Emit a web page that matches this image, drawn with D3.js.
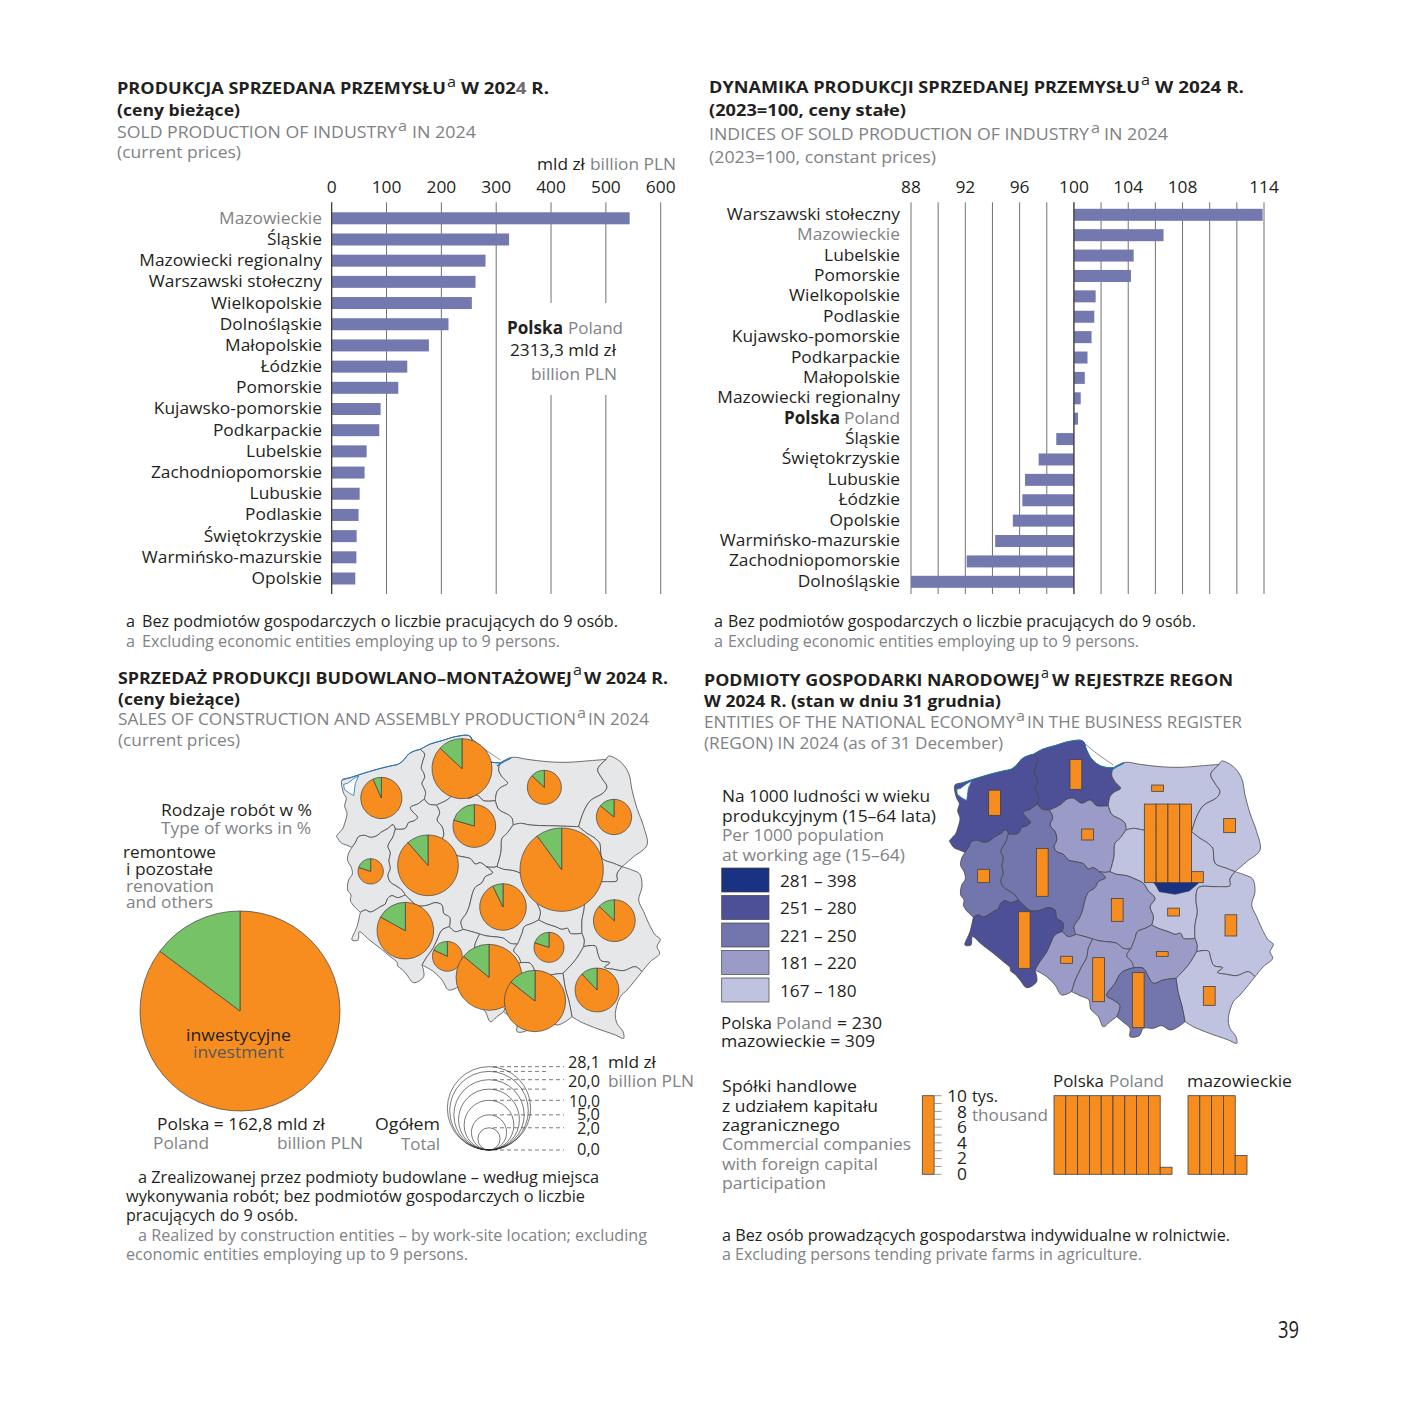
<!DOCTYPE html>
<html><head><meta charset="utf-8">
<script src="https://d3js.org/d3.v7.min.js"></script>
<style>html,body{margin:0;padding:0;background:#fff}svg{display:block}text{font-family:"Open Sans",sans-serif}</style>
</head><body><svg id="c" width="1418" height="1418" viewBox="0 0 1418 1418"></svg>
<script>
// ---------- chart data ----------
const soldCategories=["Mazowieckie","Śląskie","Mazowiecki regionalny","Warszawski stołeczny","Wielkopolskie","Dolnośląskie","Małopolskie","Łódzkie","Pomorskie","Kujawsko-pomorskie","Podkarpackie","Lubelskie","Zachodniopomorskie","Lubuskie","Podlaskie","Świętokrzyskie","Warmińsko-mazurskie","Opolskie"];
const soldValues=[543.4,323.5,280.5,262.3,255.6,213,177.3,137.8,121.4,89.2,86.8,63.7,60,51,49,45.5,45,43];
const soldTicks=[0,100,200,300,400,500,600];
const indexCategories=["Warszawski stołeczny","Mazowieckie","Lubelskie","Pomorskie","Wielkopolskie","Podlaskie","Kujawsko-pomorskie","Podkarpackie","Małopolskie","Mazowiecki regionalny","Polska","Śląskie","Świętokrzyskie","Lubuskie","Łódzkie","Opolskie","Warmińsko-mazurskie","Zachodniopomorskie","Dolnośląskie"];
const indexValues=[113.9,106.6,104.4,104.2,101.6,101.5,101.3,101,100.8,100.5,100.3,98.7,97.4,96.4,96.2,95.5,94.2,92.1,88];
const indexGrid=[88,90,92,94,96,98,100,102,104,106,108,110,112,114];
const indexTickLabels=[88,92,96,100,104,108,114];
const regionIds=["zach","pom","warm","podl","kuj","lub","wlk","maz","lodz","dol","opole","sl","swk","lubl","podk","mal"];
const constructionTotal=[6.9,14.6,4.7,5.05,7.4,2.6,14.9,28.1,8.8,13,3.6,17.6,3.65,7.1,7.8,15.2];
const constructionRenovationShare=[.065,.13,.13,.14,.205,.2,.115,.1,.072,.17,.18,.14,.2,.13,.12,.144];
const polandRenovationShare=.148;
const sizeLegendValues=[28.1,25,20,15,10,5,2];
const entitiesPer1000=[265,262,172,170,195,230,240,178,205,268,190,215,185,170,167,235];
const warsawEntities=398;
const densityBreaks=[181,221,251,281];
const densityColors=["#c0c3df","#9a9cc7","#7276ac","#4d5097","#1a3282"];
const densityLabels=["281 – 398","251 – 280","221 – 250","181 – 220","167 – 180"];
const companiesThousand=[3.2,3.8,.8,1.8,1.4,1.7,6.1,41.4,2.9,7.2,.9,5.6,.6,2.7,2.4,7];
const southMazCompanies=1.0;
const polandCompanies=90.9, mazowieckieCompanies=42.4;
const companyLegendLabels=[10,8,6,4,2,0];

// ---------- map geometry (border arcs, map units) ----------
const arcs={
coastZach:[[28,318],[36,308],[46,298],[53,280],[60,250],[53,228],[58,205],[50,190],[45,150],[70,143],[100,133],[150,118],[190,108],[215,102],[232,88],[245,72],[262,63],[280,58]],
zachPom:[[280,58],[293,72],[288,92],[283,115],[290,128],[293,142],[285,160],[290,172],[296,188],[292,207]],
zachWlk:[[292,207],[272,222],[250,232],[258,246],[272,262],[262,272],[245,278],[235,295],[215,298],[205,297]],
zachLub:[[205,297],[198,284],[182,296],[165,305],[148,318],[130,322],[112,316],[95,320],[85,338],[75,352]],
zachWest:[[75,352],[58,345],[42,338],[28,318]],
lubWest:[[75,352],[64,372],[62,392],[72,410],[76,432],[65,450],[62,480],[72,495],[70,510],[78,525],[100,547]],
lubDol:[[100,547],[115,540],[130,546],[148,538],[160,530],[175,522],[182,505],[195,497],[212,503],[235,495]],
lubWlk:[[205,297],[198,320],[183,348],[190,368],[186,392],[190,415],[183,436],[190,456],[205,466],[225,480],[235,495]],
pomWlk:[[292,207],[305,222],[328,225]],
kujWlk:[[328,225],[338,248],[330,270],[345,290],[350,315],[342,335],[350,350],[370,358],[385,375],[405,380],[430,386],[445,402],[460,398],[478,410]],
wlkLodz:[[478,410],[497,428],[475,440],[465,458],[445,472],[435,495],[428,525],[418,550],[402,575],[408,598]],
wlkOpole:[[408,598],[385,605],[367,590]],
wlkDol:[[235,495],[250,510],[272,527],[300,526],[325,518],[345,525],[350,550],[368,562],[367,590]],
dolOpole:[[367,590],[345,600],[330,630],[318,655],[300,680],[285,705]],
dolOuter:[[285,705],[290,740],[260,758],[240,735],[225,718],[212,708],[210,697],[190,680],[160,655],[125,628],[97,605],[93,630],[75,630],[90,590],[100,547]],
opoleLodz:[[408,598],[435,605],[458,612]],
opoleSl:[[458,612],[445,640],[440,668],[425,695],[405,738],[395,770]],
opoleOuter:[[285,705],[320,725],[345,750],[365,780],[395,770]],
slLodz:[[458,612],[480,618],[500,620],[530,625],[550,640],[572,642]],
slSwk:[[572,642],[560,662],[575,680],[582,698]],
slMal:[[582,698],[545,712],[525,745],[500,782],[520,795],[540,812],[530,845]],
slOuter:[[395,770],[420,782],[447,795],[452,822],[475,845],[490,875],[510,860],[530,845]],
kujLodz:[[478,410],[495,412],[510,410]],
mazLodz:[[510,410],[530,418],[560,422],[585,432],[610,445],[625,468],[645,490],[630,515],[640,545],[635,570]],
lodzSwk:[[572,642],[585,610],[592,590],[615,580],[635,570]],
mazSwk:[[635,570],[660,582],[685,590],[705,598],[722,595],[730,610],[765,610]],
swkLubl:[[765,610],[772,630],[770,650]],
swkPodk:[[770,650],[745,690],[708,730]],
swkMal:[[708,730],[670,735],[640,745],[625,725],[610,700],[582,698]],
malPodk:[[708,730],[715,775],[725,810],[735,860]],
malOuter:[[530,845],[548,860],[570,880],[570,905],[598,902],[610,880],[640,880],[665,872],[690,885],[715,875],[735,860]],
podkLubl:[[770,650],[805,648],[812,670],[822,692],[848,698],[832,712],[860,718],[890,722],[925,710],[945,725]],
podkOuter:[[945,725],[900,780],[880,800],[865,850],[870,880],[888,905],[890,925],[865,915],[800,892],[760,875],[735,860]],
mazLubl:[[885,410],[870,432],[870,452],[830,455],[775,458],[768,495],[772,530],[765,570],[765,610]],
lublOuter:[[885,410],[915,420],[938,432],[945,470],[935,510],[950,545],[970,590],[985,615],[1000,628],[990,650],[998,670],[970,695],[945,725]],
podlOuter:[[885,410],[920,380],[960,345],[950,290],[930,235],[915,180],[905,130],[880,95],[845,78],[838,88]],
warmPodl:[[838,88],[812,118],[825,145],[840,170],[830,188],[790,212],[770,245],[755,290]],
podlMaz:[[755,290],[780,310],[800,322],[818,340],[825,385],[860,400],[885,410]],
warmCoast:[[520,98],[555,82],[600,88],[660,95],[720,97],[790,92],[838,88]],
warmMaz:[[558,285],[580,280],[610,285],[690,288],[755,290]],
kujWarm:[[505,212],[515,238],[545,255],[555,265],[558,285]],
pomWarm:[[520,98],[515,120],[525,140],[542,160],[522,172],[510,185],[505,212]],
pomKuj:[[505,212],[470,212],[450,195],[425,205],[400,190],[382,192],[360,210],[328,225]],
coastPom:[[280,58],[310,42],[345,32],[385,20],[428,18],[440,45],[455,72],[480,92],[505,98],[520,98]],
kujMaz:[[558,285],[540,310],[525,325],[522,365],[510,410]]
};
// ring = list of arc names, "-" prefix = reversed
const rings={
zach:["coastZach","zachPom","zachWlk","zachLub","zachWest"],
pom:["coastPom","pomWarm","pomKuj","-pomWlk","-zachPom"],
warm:["warmCoast","warmPodl","-warmMaz","-kujWarm","-pomWarm"],
podl:["warmPodl","podlMaz","podlOuter"],
kuj:["-pomKuj","kujWarm","kujMaz","-kujLodz","-kujWlk"],
lub:["lubWest","lubDol","-lubWlk","zachLub"],
wlk:["-zachWlk","pomWlk","kujWlk","wlkLodz","wlkOpole","-wlkDol","-lubWlk"],
maz:["warmMaz","podlMaz","mazLubl","-mazSwk","-mazLodz","-kujMaz"],
lodz:["-wlkLodz","kujLodz","mazLodz","-lodzSwk","-slLodz","-opoleLodz"],
dol:["lubDol","wlkDol","dolOpole","dolOuter"],
opole:["-wlkOpole","opoleLodz","opoleSl","-opoleOuter","-dolOpole"],
sl:["-opoleSl","slLodz","slSwk","slMal","-slOuter"],
swk:["lodzSwk","mazSwk","swkLubl","swkPodk","swkMal","-slSwk"],
lubl:["lublOuter","-podkLubl","-swkLubl","-mazLubl"],
podk:["-swkPodk","podkLubl","podkOuter","-malPodk"],
mal:["-slMal","-swkMal","malPodk","-malOuter"]
};
const warsawPatch=[[630,430],[648,452],[658,470],[705,478],[748,468],[775,445],[760,420]];
const szczecinLagoon=[[50,163],[62,160],[80,146],[95,138],[85,160],[80,197],[65,188],[52,178]];
const helSpit=[[430,22],[470,55],[520,90]];
const vistulaSpit=[[510,108],[530,95],[552,84]];
// map anchors (map units): pie centres on the first map, column feet on the second
const pieAnchors={zach:[163,204],pom:[405,116],warm:[652,172],podl:[861,261],kuj:[442,288],lub:[131,424],wlk:[303,406],maz:[704,419],lodz:[528,531],dol:[235,602],opole:[361,679],sl:[486,742],swk:[666,652],lubl:[862,572],podk:[810,780],mal:[624,813]};
const barAnchors={zach:[146,241],pom:[390,163],warm:[635,169],podl:[851,293],kuj:[425,315],lub:[113,443],wlk:[289,484],maz:[613,443],lodz:[514,559],dol:[235,700],opole:[362,685],sl:[458,800],swk:[649,664],lubl:[855,603],podk:[790,811],mal:[577,878]};
const southMazAnchor=[683,543];

// ---------- helpers ----------
const BLACK="#231f20",GREY="#808285",BAR="#7378ae",ORANGE="#f78d1e",GREEN="#76c266",LINE="#414042";
const svg=d3.select("#c");
const KX=1.02;
function fit(sel,w){sel.each(function(){const n=this.getComputedTextLength();
  this.setAttribute("textLength",w!=null?w:n*KX);this.setAttribute("lengthAdjust","spacingAndGlyphs");});}
function T(x,x2,y,str,o={}){const s=svg.append("text").attr("x",x).attr("y",y).text(str)
  .attr("font-size",o.s||17).attr("fill",o.c||BLACK).attr("font-weight",o.b?700:400);
  fit(s,x2-x);return s;}
function R(x,y,str,o={}){const s=svg.append("text").attr("x",x).attr("y",y).text(str)
  .attr("text-anchor","end").attr("font-size",o.s||17).attr("fill",o.c||BLACK).attr("font-weight",o.b?700:400);
  fit(s,o.w);return s;}
const TS=16.5,SUP=15;

// ---------- chart 1 : sold production ----------
const x1=d3.scaleLinear().domain([0,600]).range([331.7,660.7]);
const y1=d3.scalePoint().domain(soldCategories).range([218.3,578.5]);
const GRIDTOP=202.3,GRIDBOT=594;
function axisG(scale,vals,fmt){
  const g=svg.append("g").attr("transform",`translate(0,${GRIDTOP})`)
   .call(d3.axisTop(scale).tickValues(vals).tickSizeInner(-(GRIDBOT-GRIDTOP)).tickSizeOuter(0).tickPadding(9.3).offset(0).tickFormat(fmt));
  g.select(".domain").remove();
  g.selectAll("line").attr("stroke","#58595b").attr("stroke-width",.85);
  g.selectAll("text").attr("font-size",17).attr("fill",BLACK).attr("font-family",'"Open Sans"');
  fit(g.selectAll("text"));return g;
}
axisG(x1,soldTicks,d=>d);
svg.append("rect").attr("x",505).attr("y",303).attr("width",122).attr("height",92).attr("fill","#fff");
svg.append("g").selectAll("rect").data(soldValues).join("rect")
 .attr("x",x1(0)).attr("y",(d,i)=>y1(soldCategories[i])-6).attr("height",12)
 .attr("width",d=>x1(d)-x1(0)).attr("fill",BAR);
svg.append("line").attr("x1",x1(0)).attr("x2",x1(0)).attr("y1",GRIDTOP).attr("y2",GRIDBOT).attr("stroke",BLACK).attr("stroke-width",.9);
soldCategories.forEach(c=>R(322,y1(c)+5.5,c,{c:c==="Mazowieckie"?GREY:BLACK}));

T(117,446,94,"PRODUKCJA SPRZEDANA PRZEMYSŁU",{b:1,s:TS});
T(447,456,87,"a",{s:SUP});
const w1=T(461,549,94,"",{b:1,s:TS});
w1.append("tspan").text("W 202");w1.append("tspan").attr("fill","#6d6e71").text("4");w1.append("tspan").text(" R.");
w1.attr("textLength",88);
T(117,240,116,"(ceny bieżące)",{b:1,s:TS});
T(117,397,138,"SOLD PRODUCTION OF INDUSTRY",{c:GREY});
T(398,407,131,"a",{c:GREY,s:SUP});
T(412,476,138,"IN 2024",{c:GREY});
T(117,241,158,"(current prices)",{c:GREY});
T(537,585,170,"mld zł");T(590,676,170,"billion PLN",{c:GREY});
T(507,563,334,"Polska",{b:1});T(568,623,334,"Poland",{c:GREY});
T(510,616,356,"2313,3 mld zł");T(531,617,380,"billion PLN",{c:GREY});
T(126,135,627,"a",{s:15.5});T(142,618,627,"Bez podmiotów gospodarczych o liczbie pracujących do 9 osób.",{s:15.5});
T(126,135,647,"a",{s:15.5,c:GREY});T(142,560,647,"Excluding economic entities employing up to 9 persons.",{s:15.5,c:GREY});

// ---------- chart 2 : indices ----------
const x2=d3.scaleLinear().domain([88,114]).range([911,1264]);
const y2=d3.scalePoint().domain(indexCategories).range([214.8,581.8]);
axisG(x2,indexGrid,d=>indexTickLabels.includes(d)?d:"");
svg.append("g").selectAll("rect").data(indexValues).join("rect")
 .attr("x",d=>Math.min(x2(d),x2(100))).attr("y",(d,i)=>y2(indexCategories[i])-6).attr("height",12)
 .attr("width",d=>Math.abs(x2(d)-x2(100))).attr("fill",BAR);
svg.append("line").attr("x1",x2(100)).attr("x2",x2(100)).attr("y1",GRIDTOP).attr("y2",GRIDBOT).attr("stroke",BLACK).attr("stroke-width",.9);
indexCategories.forEach(c=>{
  if(c==="Polska"){T(784,840,y2(c)+5,"Polska",{b:1});T(844,900,y2(c)+5,"Poland",{c:GREY});}
  else R(900,y2(c)+5,c,{c:c==="Mazowieckie"?GREY:BLACK});
});
T(709,1140,93,"DYNAMIKA PRODUKCJI SPRZEDANEJ PRZEMYSŁU",{b:1,s:TS});
T(1141,1150,85,"a",{s:SUP});T(1155,1244,93,"W 2024 R.",{b:1,s:TS});
T(709,906,116,"(2023=100, ceny stałe)",{b:1,s:TS});
T(709,1089,140,"INDICES OF SOLD PRODUCTION OF INDUSTRY",{c:GREY});
T(1091,1100,133,"a",{c:GREY,s:SUP});T(1104,1168,140,"IN 2024",{c:GREY});
T(709,936,163,"(2023=100, constant prices)",{c:GREY});
T(714,723,627,"a",{s:15.5});T(728,1196,627,"Bez podmiotów gospodarczych o liczbie pracujących do 9 osób.",{s:15.5});
T(714,723,647,"a",{s:15.5,c:GREY});T(728,1139,647,"Excluding economic entities employing up to 9 persons.",{s:15.5,c:GREY});

// ---------- maps ----------
function drawMap(ox,oy,fillOf){
  const sx=d3.scaleLinear().domain([0,3]).range([ox,ox+1]),sy=d3.scaleLinear().domain([0,3]).range([oy,oy+1]);
  const s={x:sx,y:sy};
  const open=d3.line().x(d=>sx(d[0])).y(d=>sy(d[1])).curve(d3.curveCatmullRom.alpha(.5));
  const straight=d3.line().x(d=>sx(d[0])).y(d=>sy(d[1]));
  const ringPath=id=>rings[id].map((a,i)=>{const rev=a[0]==="-";const p=arcs[rev?a.slice(1):a];
      const d=open(rev?[...p].reverse():p);return i?"L"+d.slice(1):d;}).join("")+"Z";
  const g=svg.append("g");
  regionIds.forEach((id,i)=>g.append("path").attr("d",ringPath(id))
     .attr("fill",fillOf(i)).attr("stroke",LINE).attr("stroke-width",.75).attr("stroke-linejoin","round"));
  g.append("path").attr("d",straight(szczecinLagoon)+"Z").attr("fill","#fff").attr("stroke","#1c75bc").attr("stroke-width",.8);
  [arcs.coastZach.slice(8),arcs.coastPom].forEach(c=>g.append("path").attr("d",open(c)).attr("fill","none").attr("stroke","#1c75bc").attr("stroke-width",1));
  g.append("path").attr("d",open(helSpit)).attr("fill","none").attr("stroke",LINE).attr("stroke-width",.6);
  g.append("path").attr("d",open(vistulaSpit)).attr("fill","none").attr("stroke","#1c75bc").attr("stroke-width",1.4);
  return {s,g};
}
// map 1 : pies
const m1=drawMap(327,730,()=>"#e6e7e8");
const rPie=d3.scaleSqrt().domain([0,28.1]).range([0,125/3]);
const pieGen=d3.pie().sort(null).value(d=>d);
function drawPie(parent,cx,cy,r,share){
  const g=parent.append("g").attr("transform",`translate(${cx},${cy})`);
  const a=d3.arc().innerRadius(0).outerRadius(r);
  g.selectAll("path").data(pieGen([1-share,share])).join("path").attr("d",a)
   .attr("fill",(d,i)=>i?GREEN:ORANGE).attr("stroke",LINE).attr("stroke-width",.7);
}
regionIds.forEach((id,i)=>{const p=pieAnchors[id];drawPie(svg,m1.s.x(p[0]),m1.s.y(p[1]),rPie(constructionTotal[i]),constructionRenovationShare[i]);});
// big legend pie
drawPie(svg,240,1011,100,polandRenovationShare);
// size legend
const lgX=489,lgB=1150;
sizeLegendValues.forEach((v,i)=>{const r=rPie(v);
  svg.append("circle").attr("cx",lgX).attr("cy",lgB-r).attr("r",r).attr("fill","none").attr("stroke",BLACK).attr("stroke-width",.6);
  svg.append("line").attr("x1",lgX+4).attr("x2",(v===25||v===15)?547:564).attr("y1",lgB-2*r).attr("y2",lgB-2*r)
    .attr("stroke",BLACK).attr("stroke-width",.6).attr("stroke-dasharray","4,3");
});
svg.append("line").attr("x1",lgX+4).attr("x2",564).attr("y1",lgB).attr("y2",lgB).attr("stroke",BLACK).attr("stroke-width",.6).attr("stroke-dasharray","4,3");
T(568,600,1068,"28,1");T(608,656,1068,"mld zł");T(568,600,1087,"20,0");T(608,694,1087,"billion PLN",{c:GREY});
T(569,600,1107,"10,0");T(577,600,1120,"5,0");T(577,600,1134,"2,0");T(577,600,1155,"0,0");
T(118,572,684,"SPRZEDAŻ PRODUKCJI BUDOWLANO–MONTAŻOWEJ",{b:1,s:TS});
T(573,582,675,"a",{s:SUP});T(584,668,684,"W 2024 R.",{b:1,s:TS});
T(118,240,705,"(ceny bieżące)",{b:1,s:TS});
T(118,576,725,"SALES OF CONSTRUCTION AND ASSEMBLY PRODUCTION",{c:GREY});
T(577,586,718,"a",{c:GREY,s:SUP});T(588,649,725,"IN 2024",{c:GREY});
T(118,240,746,"(current prices)",{c:GREY});
T(161,312,816,"Rodzaje robót w %");T(161,311,834,"Type of works in %",{c:GREY});
T(123,216,858,"remontowe");T(126,213,875,"i pozostałe");T(126,214,892,"renovation",{c:GREY});T(126,213,908,"and others",{c:GREY});
T(186,291,1041,"inwestycyjne");T(193,284,1058,"investment",{c:"#58595b"});
T(157,325,1130,"Polska = 162,8 mld zł");T(153,209,1149,"Poland",{c:GREY});T(277,363,1149,"billion PLN",{c:GREY});
T(375,440,1130,"Ogółem");T(401,440,1150,"Total",{c:GREY});
const FN=15.5;
T(138,599,1183,"a Zrealizowanej przez podmioty budowlane – według miejsca",{s:FN});
T(126,585,1202,"wykonywania robót; bez podmiotów gospodarczych o liczbie",{s:FN});
T(126,298,1221,"pracujących do 9 osób.",{s:FN});
T(138,647,1241,"a Realized by construction entities – by work-site location; excluding",{s:FN,c:GREY});
T(126,468,1260,"economic entities employing up to 9 persons.",{s:FN,c:GREY});

// map 2 : choropleth + columns
const dens=d3.scaleThreshold().domain(densityBreaks).range(densityColors);
const m2=drawMap(940,735,i=>dens(entitiesPer1000[i]));
m2.g.append("path").attr("d",d3.line().x(d=>m2.s.x(d[0])).y(d=>m2.s.y(d[1]))(warsawPatch)+"Z").attr("fill",dens(warsawEntities)).attr("stroke",LINE).attr("stroke-width",.6);
const colH=d3.scaleLinear().domain([0,10]).range([0,78.6]);
const COLW=11.8;
function columns(x0,yb,val){
  const parts=[];let v=val;while(v>0){parts.push(Math.min(v,10));v=+(v-10).toFixed(3);}
  svg.append("g").selectAll("rect").data(parts).join("rect")
   .attr("x",(d,i)=>x0+i*COLW).attr("y",d=>yb-colH(d)).attr("width",COLW).attr("height",d=>colH(d))
   .attr("fill",ORANGE).attr("stroke",LINE).attr("stroke-width",.8);
}
regionIds.forEach((id,i)=>{const a=barAnchors[id];columns(m2.s.x(a[0]),m2.s.y(a[1]),companiesThousand[i]);});
columns(m2.s.x(southMazAnchor[0]),m2.s.y(southMazAnchor[1]),southMazCompanies);
// density legend
const swY=d3.scalePoint().domain(densityLabels).range([880,990]);
densityLabels.forEach((l,i)=>{
  svg.append("rect").attr("x",721.7).attr("y",swY(l)-12).attr("width",47.3).attr("height",24)
    .attr("fill",densityColors[densityColors.length-1-i]).attr("stroke",LINE).attr("stroke-width",.7);
  T(780,856.5,swY(l)+6.5,l);
});
T(722,930,802,"Na 1000 ludności w wieku");T(722,936,822,"produkcyjnym (15–64 lata)");
T(722,884,841,"Per 1000 population",{c:GREY});T(722,905,861,"at working age (15–64)",{c:GREY});
T(721,772,1029,"Polska");T(776,832,1029,"Poland",{c:GREY});T(837,882,1029,"= 230");T(721,875,1047,"mazowieckie = 309");
T(704,1040,686,"PODMIOTY GOSPODARKI NARODOWEJ",{b:1,s:TS});T(1041,1049,678,"a",{s:SUP});
T(1052,1233,686,"W REJESTRZE REGON",{b:1,s:TS});
T(704,1001,707,"W 2024 R. (stan w dniu 31 grudnia)",{b:1,s:TS});
T(704,1015,728,"ENTITIES OF THE NATIONAL ECONOMY",{c:GREY});T(1016,1025,721,"a",{c:GREY,s:SUP});
T(1027,1242,728,"IN THE BUSINESS REGISTER",{c:GREY});T(704,1003,749,"(REGON) IN 2024 (as of 31 December)",{c:GREY});
T(722,857,1092,"Spółki handlowe");T(722,878,1112,"z udziałem kapitału");T(722,840,1131,"zagranicznego");
T(722,911,1150,"Commercial companies",{c:GREY});T(722,878,1170,"with foreign capital",{c:GREY});T(722,826,1189,"participation",{c:GREY});
// column legend
const LB=1174.3;
columns(922.3,LB,10);
const lgTick=d3.axisRight(d3.scaleLinear().domain([0,10]).range([LB,LB-78.6])).ticks(10).tickSize(7.5).tickFormat("").offset(0);
const lgT=svg.append("g").attr("transform","translate(934.1,0)").call(lgTick);
lgT.select(".domain").remove();lgT.selectAll("line").attr("stroke",GREY).attr("stroke-width",.8);
const legendBase=d3.scalePoint().domain(companyLegendLabels).range([1102,1180]);
companyLegendLabels.forEach(v=>R(967,legendBase(v),String(v)));
T(972,998,1102,"tys.");T(972,1048,1121,"thousand",{c:GREY});
T(1053,1104,1087,"Polska");T(1109,1164,1087,"Poland",{c:GREY});T(1187,1292,1087,"mazowieckie");
columns(1054,LB,polandCompanies);columns(1188,LB,mazowieckieCompanies);
T(722,1230,1241,"a Bez osób prowadzących gospodarstwa indywidualne w rolnictwie.",{s:FN});
T(722,1142,1260,"a Excluding persons tending private farms in agriculture.",{s:FN,c:GREY});
T(1278,1299,1338,"39",{s:24});
</script></body></html>
